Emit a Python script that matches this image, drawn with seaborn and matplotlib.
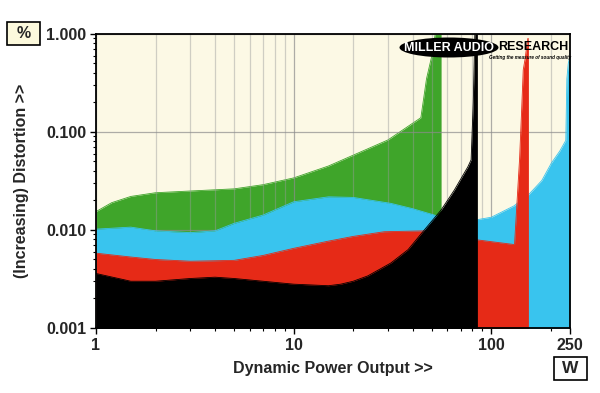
import matplotlib
matplotlib.use('Agg')
import matplotlib.pyplot as plt
from matplotlib.patches import Ellipse, Rectangle
from matplotlib.ticker import FixedLocator, NullFormatter
import seaborn as sns

# Power (W) / distortion (%), one series per colour
green_w = [1, 1.2, 1.5, 2, 3, 5, 7, 10, 15, 20, 30, 44, 47, 50, 52, 55.7]
green_thd = [0.0154, 0.019, 0.022, 0.024, 0.025, 0.0263, 0.029, 0.034, 0.045, 0.058,
             0.083, 0.14, 0.35, 0.6, 1.0, 1.0]

blue_w = [1, 1.5, 2, 3, 4, 5, 7, 10, 15, 20, 31, 40, 51.5, 60, 75, 86, 100, 130,
          154, 180, 201, 222, 238, 241, 245, 250]
blue_thd = [0.0102, 0.0107, 0.0098, 0.0094, 0.0098, 0.0117, 0.0142, 0.0194, 0.0218,
            0.0215, 0.0187, 0.0165, 0.0142, 0.013, 0.0125, 0.0128, 0.0135, 0.0176,
            0.0228, 0.032, 0.048, 0.064, 0.082, 0.35, 0.5, 0.6]

red_w = [1, 1.5, 2, 3, 5, 7, 10, 15, 20, 28.7, 45.7, 60, 86, 100, 131, 135, 139,
         142, 145, 148, 151, 153, 154]
red_thd = [0.0058, 0.0053, 0.0050, 0.0048, 0.0049, 0.0055, 0.0065, 0.0077, 0.0086,
           0.0096, 0.0098, 0.0092, 0.0079, 0.0076, 0.0071, 0.02, 0.054, 0.15, 0.43,
           0.55, 0.75, 0.9, 0.9]

black_w = [1, 1.5, 2, 3, 4, 5, 7, 10, 15, 17.3, 20, 23.7, 31, 37.9, 45.8, 55.7, 65,
           76, 79, 81, 82.5, 85]
black_thd = [0.0036, 0.0030, 0.0030, 0.0032, 0.0033, 0.0032, 0.0030, 0.0028, 0.0027,
             0.0028, 0.0030, 0.0034, 0.0046, 0.0063, 0.010, 0.016, 0.0256, 0.044,
             0.052, 0.2, 1.0, 1.0]

x_ticks = [1, 10, 100, 250]
x_tick_labels = ['1', '10', '100', '250']
y_ticks = [0.001, 0.01, 0.1, 1.0]
y_tick_labels = ['0.001', '0.010', '0.100', '1.000']

sns.set_style('white')
plt.rcParams['font.family'] = ['Liberation Sans', 'DejaVu Sans']

fig = plt.figure(figsize=(6, 3.93), dpi=100)
ax = fig.add_axes([0.16, 0.1654, 0.79, 0.7481])
ax.set_facecolor('#fcf9e5')

series = [(green_w, green_thd, '#3fa52a'),
          (blue_w, blue_thd, '#39c4ee'),
          (red_w, red_thd, '#e62a17'),
          (black_w, black_thd, '#000000')]
for i, (xs, ys, col) in enumerate(series):
    ax.fill_between(xs, ys, 0.0009, color=col, lw=0, zorder=2 + i)
    sns.lineplot(x=xs, y=ys, ax=ax, color=col, lw=0.6, estimator=None, zorder=2 + i)

ax.set_xscale('log')
ax.set_yscale('log')
ax.set_xlim(1, 250)
ax.set_ylim(0.001, 1.0)

ax.set_xticks(x_ticks)
ax.set_xticklabels(x_tick_labels)
ax.xaxis.set_minor_locator(FixedLocator([2, 3, 4, 5, 6, 7, 8, 9, 20, 30, 40, 50, 60,
                                         70, 80, 90, 200]))
ax.xaxis.set_minor_formatter(NullFormatter())
ax.set_yticks(y_ticks)
ax.set_yticklabels(y_tick_labels)
ax.yaxis.set_minor_locator(FixedLocator([k * 10.0 ** e for e in (-3, -2, -1)
                                         for k in range(2, 10)]))
ax.yaxis.set_minor_formatter(NullFormatter())

ax.tick_params(which='both', direction='out', color='black', bottom=True, left=True)
ax.tick_params(which='major', length=4, width=1, labelsize=11.5, pad=3)
ax.tick_params(which='minor', length=2.5, width=0.8)
for lab in ax.get_xticklabels() + ax.get_yticklabels():
    lab.set_fontweight('bold')

ax.set_axisbelow(False)
ax.grid(which='major', axis='both', color='#8c8c8c', alpha=0.7, lw=0.9, zorder=10)
ax.grid(which='minor', axis='x', color='#9a9a9a', alpha=0.45, lw=0.9, zorder=10)
for sp in ax.spines.values():
    sp.set_color('black')
    sp.set_linewidth(1.3)
    sp.set_zorder(12)

ax.set_xlabel('Dynamic Power Output >>', fontsize=11.5, fontweight='bold', labelpad=6)
ax.set_ylabel('(Increasing) Distortion >>', fontsize=11.5, fontweight='bold', labelpad=12)

# unit boxes (pixel positions converted to figure fractions)
W, H = 600.0, 393.0
fig.patches.append(Rectangle((7 / W, 1 - 45 / H), 33 / W, 23 / H, transform=fig.transFigure,
                             fc='#fcf9dc', ec='black', lw=1.2))
fig.text(23.5 / W, 1 - 33.5 / H, '%', ha='center', va='center', fontsize=11.5,
         fontweight='bold')
fig.patches.append(Rectangle((554 / W, 1 - 380 / H), 33 / W, 23 / H, transform=fig.transFigure,
                             fc='white', ec='black', lw=1.2))
fig.text(570.5 / W, 1 - 368.5 / H, 'W', ha='center', va='center', fontsize=12.5,
         fontweight='bold')

# logo
logo = Ellipse((449 / W, 1 - 47.5 / H), 99 / W, 20 / H, transform=fig.transFigure,
               fc='black', ec='none', zorder=20)
fig.patches.append(logo)
fig.text(449 / W, 1 - 48 / H, 'MILLER AUDIO', ha='center', va='center', fontsize=9,
         fontweight='bold', color='white', zorder=21)
fig.text(533 / W, 1 - 47.5 / H, 'RESEARCH', ha='center', va='center', fontsize=9,
         fontweight='bold', color='black', zorder=21)
fig.text(530 / W, 1 - 57 / H, 'Getting the measure of sound quality', ha='center',
         va='center', fontsize=3.3, fontweight='bold', fontstyle='italic', color='black',
         zorder=21)

fig.savefig('out.png', dpi=100, facecolor='white')
